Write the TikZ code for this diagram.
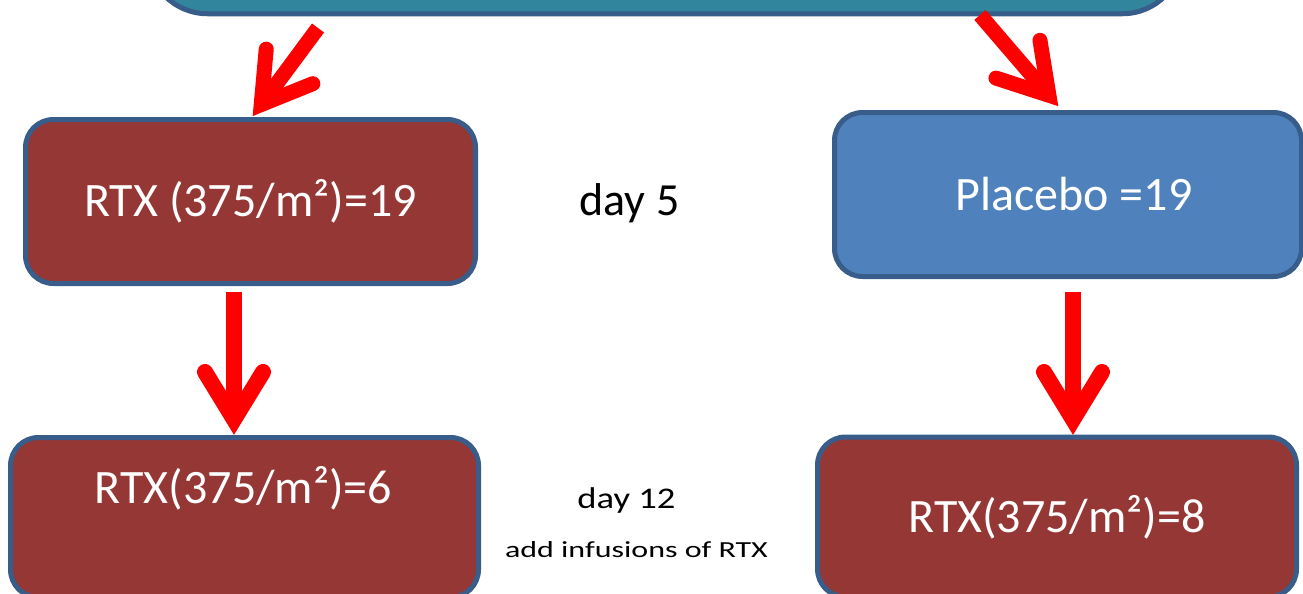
\documentclass[tikz,border=0pt]{standalone}
\usepackage{fontspec}
\setmainfont{Carlito}
\usetikzlibrary{calc}
\definecolor{tealfill}{HTML}{31859C}
\definecolor{boxred}{HTML}{953735}
\definecolor{boxblue}{HTML}{4F81BD}
\definecolor{edgeblue}{HTML}{385D8A}
\definecolor{arrowred}{HTML}{FF0000}
% #1 start, #2 tip, #3 shaft width
\newcommand\bigredarrow[3]{%
  \path ($(#2)!7.75pt!(#1)$) coordinate (ra-v)
        ($(#2)!31.5pt!(#1)$) coordinate (ra-b);
  \draw[arrowred, line width=#3, line cap=butt] (#1) -- (ra-v);
  \draw[arrowred, line width=#3, line cap=round, line join=miter]
     ($(ra-b)!14.5pt!90:(#2)$) -- (ra-v) -- ($(ra-b)!14.5pt!-90:(#2)$);
}
\tikzset{
  box/.style={draw=edgeblue, line width=2.5pt, rounded corners=14pt,
    inner sep=0pt, text=white},
  bigfont/.style={font=\fontsize{24pt}{28pt}\selectfont},
  midfont/.style={font=\fontsize{24pt}{28pt}\selectfont},
}
\begin{document}
\begin{tikzpicture}[x=0.5pt, y=-0.5pt]
\useasboundingbox (0,0) rectangle (1303,594);
\clip (0,0) rectangle (1303,594);

% top box (cut off)
\node[box, fill=tealfill, rounded corners=30pt, minimum width=517.5pt,
      minimum height=81.75pt] (top) at (665,-68) {};

% boxes
\node[box, fill=boxred, bigfont, minimum width=225pt, minimum height=82pt]
  (A) at (250.5,201.5) {RTX (375/m²)=19};
\node[box, fill=boxblue, bigfont, minimum width=233.5pt, minimum height=82pt]
  (B) at (1068,194.5) {\hspace*{6pt}Placebo =19};
\node[box, fill=boxred, minimum width=234pt, minimum height=80pt]
  (C) at (244.5,517.5) {};
\node[text=white, midfont, anchor=base] (Ct) at (243.5,503) {RTX(375/m²)=6};
\node[box, fill=boxred, midfont, minimum width=239.5pt, minimum height=80pt]
  (D) at (1057,517) {RTX(375/m²)=8};

% middle texts
\node[anchor=base, font=\fontsize{23pt}{27pt}\selectfont] (d5) at (629.5,215) {day 5};
\node[anchor=base, font=\fontsize{15pt}{18pt}\selectfont] (d12) at (626.5,508)
  {\scalebox{1.22}[1]{day 12}};
\node[anchor=base, font=\fontsize{11.5pt}{14pt}\selectfont] (add) at (636.5,557)
  {\scalebox{1.39}[1]{add infusions of RTX}};

% arrow end points
\coordinate (s1) at (318,28);
\coordinate (t1) at (252,117);
\coordinate (s2) at (980,15);
\coordinate (t2) at (1059,107);
\coordinate (s3) at (234,292);
\coordinate (t3) at (234,435);
\coordinate (s4) at (1073,292);
\coordinate (t4) at (1073,435);

\bigredarrow{s1}{t1}{7.5pt}
\bigredarrow{s2}{t2}{7.5pt}
\bigredarrow{s3}{t3}{8pt}
\bigredarrow{s4}{t4}{8pt}
\end{tikzpicture}
\end{document}
